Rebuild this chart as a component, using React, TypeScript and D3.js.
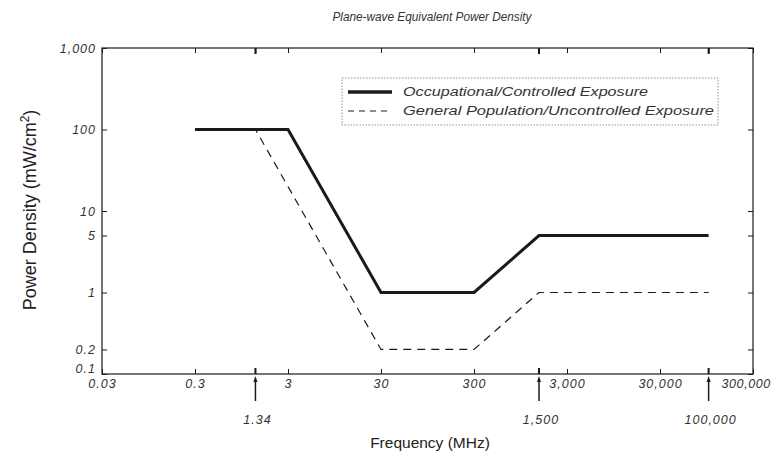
import React, { useEffect, useRef } from "react";
import * as d3 from "d3";

// frequency (MHz) / power density (mW/cm2) breakpoints
const occFreq = [0.3, 3, 30, 300, 1500, 100000];
const occDensity = [100, 100, 1, 1, 5, 5];
const genFreq = [0.3, 1.34, 30, 300, 1500, 100000];
const genDensity = [100, 100, 0.2, 0.2, 1, 1];

const xTickValues = [0.03, 0.3, 3, 30, 300, 3000, 30000, 300000];
const xTickLabels = ["0.03", "0.3", "3", "30", "300", "3,000", "30,000", "300,000"];
const xMarkValues = [1.34, 1500, 100000];
const xMarkLabels = ["1.34", "1,500", "100,000"];
const yTickValues = [1000, 100, 10, 5, 1, 0.2, 0.1];
const yTickLabels = ["1,000", "100", "10", "5", "1", "0.2", "0.1"];

const seriesNames = ["Occupational/Controlled Exposure", "General Population/Uncontrolled Exposure"];

const App = () => {
  const ref = useRef<SVGSVGElement>(null);

  useEffect(() => {
    const svg = d3.select(ref.current);
    svg.selectAll("*").remove();

    const left = 102, right = 753, top = 48, bottom = 374;
    const ink = "#1a1a1a";
    const tickFont = "'Liberation Sans', Arial, sans-serif";

    const x = d3.scaleLog().domain([0.03, 300000]).range([left, right]);
    const y = d3.scaleLog().domain([0.1, 1000]).range([bottom, top]);

    // title
    svg.append("text")
      .attr("x", 432).attr("y", 21)
      .attr("text-anchor", "middle")
      .attr("textLength", 199).attr("lengthAdjust", "spacingAndGlyphs")
      .style("font", `italic 13px ${tickFont}`)
      .attr("fill", "#333")
      .text("Plane-wave Equivalent  Power Density");

    // frame
    svg.append("rect")
      .attr("x", left).attr("y", top)
      .attr("width", right - left).attr("height", bottom - top)
      .attr("fill", "none").attr("stroke", ink).attr("stroke-width", 1.2);

    const fmtX = (d: number) => xTickLabels[xTickValues.indexOf(d)];
    const fmtY = (d: number) => yTickLabels[yTickValues.indexOf(d)];

    const styleAxis = (g: any) => {
      g.select(".domain").remove();
      g.selectAll("line").attr("stroke", ink);
      g.selectAll("text")
        .attr("fill", "#333")
        .style("font", `italic 12.5px ${tickFont}`)
        .style("letter-spacing", "1px");
    };

    // bottom axis
    const bx = svg.append("g")
      .attr("transform", `translate(0,${bottom})`)
      .call(d3.axisBottom(x).tickValues(xTickValues).tickFormat(fmtX as any)
        .tickSizeInner(-5).tickSizeOuter(0).tickPadding(5))
      .call(styleAxis);
    // last label sits past the frame's right edge
    bx.selectAll("text").filter((d: any) => d === 300000)
      .attr("text-anchor", "start").attr("x", -32).style("letter-spacing", "0.6px");

    // top axis (ticks only)
    svg.append("g")
      .attr("transform", `translate(0,${top})`)
      .call(d3.axisTop(x).tickValues(xTickValues.concat(xMarkValues)).tickFormat(() => "")
        .tickSizeInner(-5).tickSizeOuter(0))
      .call(styleAxis);

    // left axis
    const ly = svg.append("g")
      .attr("transform", `translate(${left},0)`)
      .call(d3.axisLeft(y).tickValues(yTickValues).tickFormat(fmtY as any)
        .tickSizeInner(-5).tickSizeOuter(0).tickPadding(6))
      .call(styleAxis);
    ly.selectAll("text").filter((d: any) => d === 0.1).attr("y", -6);

    // right axis (ticks only)
    svg.append("g")
      .attr("transform", `translate(${right},0)`)
      .call(d3.axisRight(y).tickValues(yTickValues).tickFormat(() => "")
        .tickSizeInner(-5).tickSizeOuter(0))
      .call(styleAxis);

    // heavier tick marks at the breakpoints, with arrows below
    const marks = svg.append("g");
    xMarkValues.forEach((v, i) => {
      const px = x(v);
      marks.append("line")
        .attr("x1", px).attr("x2", px).attr("y1", bottom).attr("y2", bottom - 6)
        .attr("stroke", ink).attr("stroke-width", 2);
      marks.append("line")
        .attr("x1", px).attr("x2", px).attr("y1", top).attr("y2", top + 6)
        .attr("stroke", ink).attr("stroke-width", 2);
      marks.append("line")
        .attr("x1", px).attr("x2", px).attr("y1", bottom + 5).attr("y2", bottom + 27)
        .attr("stroke", ink).attr("stroke-width", 1.5);
      marks.append("path")
        .attr("d", `M${px - 2},${bottom + 8}L${px},${bottom + 2}L${px + 2},${bottom + 8}Z`)
        .attr("fill", ink);
      marks.append("text")
        .attr("x", px + 2).attr("y", bottom + 50)
        .attr("text-anchor", "middle")
        .attr("fill", "#333")
        .style("font", `italic 12.5px ${tickFont}`)
        .style("letter-spacing", "1px")
        .text(xMarkLabels[i]);
    });

    // series
    const line = d3.line<[number, number]>().x(d => x(d[0])).y(d => y(d[1]));
    svg.append("path")
      .datum(genFreq.map((f, i) => [f, genDensity[i]] as [number, number]))
      .attr("d", line)
      .attr("fill", "none").attr("stroke", ink).attr("stroke-width", 1.2)
      .attr("stroke-dasharray", "8,6");
    svg.append("path")
      .datum(occFreq.map((f, i) => [f, occDensity[i]] as [number, number]))
      .attr("d", line)
      .attr("fill", "none").attr("stroke", ink).attr("stroke-width", 3)
      .attr("stroke-linejoin", "miter");

    // legend
    const lg = svg.append("g").attr("transform", "translate(342,78)");
    lg.append("rect")
      .attr("width", 376).attr("height", 47)
      .attr("fill", "white").attr("stroke", "#777").attr("stroke-width", 0.8)
      .attr("stroke-dasharray", "1.5,1.5");
    lg.append("line")
      .attr("x1", 6).attr("x2", 50).attr("y1", 14).attr("y2", 14)
      .attr("stroke", ink).attr("stroke-width", 3.5);
    lg.append("line")
      .attr("x1", 6).attr("x2", 50).attr("y1", 33).attr("y2", 33)
      .attr("stroke", ink).attr("stroke-width", 1.2).attr("stroke-dasharray", "6,5");
    lg.selectAll("text.leg")
      .data(seriesNames)
      .enter().append("text")
      .attr("class", "leg")
      .attr("x", 61).attr("y", (_d, i) => 18 + i * 19)
      .attr("textLength", (_d, i) => (i === 0 ? 245 : 311))
      .attr("lengthAdjust", "spacingAndGlyphs")
      .attr("fill", "#333")
      .style("font", `italic 12px ${tickFont}`)
      .text(d => d);

    // axis titles
    svg.append("text")
      .attr("x", 430).attr("y", 448)
      .attr("text-anchor", "middle")
      .attr("fill", "#222")
      .style("font", `15.5px ${tickFont}`)
      .text("Frequency (MHz)");

    const yl = svg.append("text")
      .attr("transform", "translate(36,210) rotate(-90)")
      .attr("text-anchor", "middle")
      .attr("fill", "#222")
      .style("font", `18px ${tickFont}`);
    yl.append("tspan").text("Power Density (mW/cm");
    yl.append("tspan").attr("dy", -7).style("font-size", "12px").text("2");
    yl.append("tspan").attr("dy", 7).text(")");
  }, []);

  return (
    <svg
      ref={ref}
      width={778}
      height={457}
      style={{ position: "absolute", left: 0, top: 0, background: "white" }}
    />
  );
};

export default App;
